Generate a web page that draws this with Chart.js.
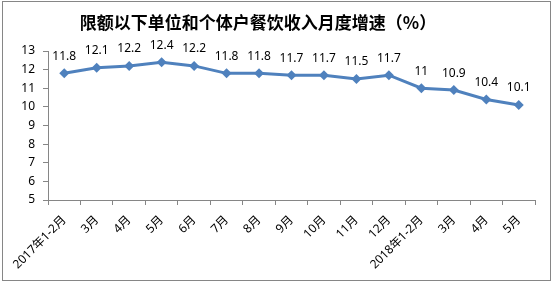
<!DOCTYPE html>
<html lang="zh">
<head>
    <meta charset="UTF-8">
    <title>限额以下单位和个体户餐饮收入月度增速</title>
    <style>
        html, body { margin: 0; padding: 0; background: #fff; }
        #wrap { width: 552px; height: 282px; }
    </style>
    <script src="https://cdn.jsdelivr.net/npm/chart.js"></script>
</head>
<body>
    <div id="wrap"><canvas id="growthChart" width="552" height="282"></canvas></div>

    <script>
        // data
        const months = ['2017年1-2月', '3月', '4月', '5月', '6月', '7月', '8月', '9月', '10月', '11月', '12月',
                        '2018年1-2月', '3月', '4月', '5月'];
        const growth = [11.8, 12.1, 12.2, 12.4, 12.2, 11.8, 11.8, 11.7, 11.7, 11.5, 11.7, 11, 10.9, 10.4, 10.1];
        const yTicks = [5, 6, 7, 8, 9, 10, 11, 12, 13];
        const titleText = '限额以下单位和个体户餐饮收入月度增速（%）';

        const latinFont = '"Noto Sans", "Noto Sans CJK SC", sans-serif';

        // white background, outer frame and title
        const framePlugin = {
            id: 'framePlugin',
            beforeDraw(chart) {
                const ctx = chart.ctx;
                ctx.save();
                ctx.fillStyle = '#fff';
                ctx.fillRect(0, 0, chart.width, chart.height);
                ctx.strokeStyle = '#868686';
                ctx.lineWidth = 1;
                ctx.strokeRect(2.5, 1.5, 548, 279);
                ctx.fillStyle = '#000';
                ctx.font = 'bold 17px "Noto Sans CJK SC", sans-serif';
                ctx.textAlign = 'center';
                ctx.textBaseline = 'middle';
                ctx.fillText(titleText, 258, 23);
                ctx.restore();
            }
        };

        // value labels above each point
        const valueLabels = {
            id: 'valueLabels',
            afterDatasetsDraw(chart) {
                const ctx = chart.ctx;
                const meta = chart.getDatasetMeta(0);
                ctx.save();
                ctx.fillStyle = '#000';
                ctx.font = '12px ' + latinFont;
                ctx.textAlign = 'center';
                ctx.textBaseline = 'middle';
                meta.data.forEach((pt, i) => {
                    ctx.fillText(String(growth[i]), pt.x, pt.y - 17);
                });
                ctx.restore();
            }
        };

        Chart.register(framePlugin, valueLabels);

        new Chart(document.getElementById('growthChart').getContext('2d'), {
            type: 'line',
            data: {
                labels: months,
                datasets: [{
                    data: growth,
                    borderColor: '#4F81BD',
                    backgroundColor: '#4F81BD',
                    borderWidth: 3,
                    pointStyle: 'rectRot',
                    pointRadius: 5,
                    pointBorderWidth: 0,
                    tension: 0
                }]
            },
            options: {
                responsive: false,
                animation: false,
                layout: { padding: { top: 51, right: 17, bottom: 0, left: 0 } },
                plugins: {
                    legend: { display: false },
                    title: { display: false },
                    tooltip: { enabled: false }
                },
                scales: {
                    x: {
                        offset: true,
                        grid: {
                            offset: true,
                            drawOnChartArea: false,
                            color: '#868686',
                            tickLength: 5
                        },
                        border: { color: '#868686' },
                        ticks: {
                            autoSkip: false,
                            minRotation: 45,
                            maxRotation: 45,
                            padding: 8,
                            color: '#000',
                            font: { size: 12, family: latinFont }
                        },
                        afterFit(scale) { scale.height = 82; }
                    },
                    y: {
                        min: 5,
                        max: 13,
                        afterBuildTicks(scale) {
                            scale.ticks = yTicks.map(v => ({ value: v }));
                        },
                        grid: {
                            drawOnChartArea: false,
                            color: '#868686',
                            tickLength: 5
                        },
                        border: { color: '#868686' },
                        ticks: {
                            padding: 8,
                            color: '#000',
                            font: { size: 12, family: latinFont }
                        },
                        afterFit(scale) { scale.width = 48; }
                    }
                }
            }
        });
    </script>
</body>
</html>
